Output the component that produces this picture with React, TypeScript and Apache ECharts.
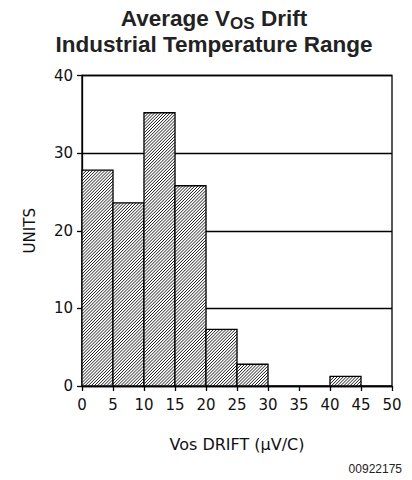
import React, { useEffect, useRef } from "react";
import * as echarts from "echarts";

const binStart = [0, 5, 10, 15, 20, 25, 40];
const binEnd = [5, 10, 15, 20, 25, 30, 45];
const units = [27.8, 23.6, 35.2, 25.8, 7.3, 2.8, 1.25];
const yTicks = [0, 10, 20, 30, 40];
const xTicks = [0, 5, 10, 15, 20, 25, 30, 35, 40, 45, 50];

export default function App() {
  const ref = useRef<HTMLDivElement>(null);
  useEffect(() => {
    document.body.style.margin = "0";
    const chart = echarts.init(ref.current!, null, { renderer: "svg" });
    const data = binStart.map((s, i) => [s, binEnd[i], units[i]]);
    const font = "'Liberation Sans', Arial, sans-serif";
    const axFont = "'DejaVu Sans', sans-serif";
    chart.setOption({
      animation: false,
      backgroundColor: "#fff",
      title: {
        text: "{a|Average V}{s|OS}{a| Drift}\n{a|Industrial Temperature Range}",
        left: 209,
        textAlign: "center",
        top: 0,
        textStyle: {
          rich: {
            a: { fontFamily: font, fontWeight: "bold", fontSize: 22.5, color: "#222", lineHeight: 26 },
            s: { fontFamily: font, fontWeight: "bold", fontSize: 17, color: "#222", lineHeight: 26, padding: [11, 0, 0, 0] },
          },
        },
      },
      grid: {
        left: 82,
        right: 20,
        top: 75.5,
        bottom: 94,
        show: true,
        borderColor: "#000",
        borderWidth: 1.3,
        containLabel: false,
      },
      xAxis: {
        type: "value",
        min: xTicks[0],
        max: xTicks[xTicks.length - 1],
        interval: 5,
        name: "Vos DRIFT (\u03bcV/C)",
        nameLocation: "middle",
        nameGap: 50,
        nameTextStyle: { fontFamily: axFont, fontSize: 16, color: "#111" },
        axisLine: { show: true, lineStyle: { color: "#000", width: 1.3 } },
        axisTick: { show: true, length: 5, lineStyle: { color: "#000", width: 1.3 } },
        axisLabel: { fontFamily: axFont, fontSize: 15, color: "#111", margin: 11 },
        splitLine: { show: false },
      },
      yAxis: {
        type: "value",
        min: yTicks[0],
        max: yTicks[yTicks.length - 1],
        interval: 10,
        name: "UNITS",
        nameLocation: "middle",
        nameGap: 45,
        nameRotate: 90,
        nameTextStyle: { fontFamily: axFont, fontSize: 15, color: "#111" },
        axisLine: { show: true, lineStyle: { color: "#000", width: 1.3 } },
        axisTick: { show: true, length: 5, lineStyle: { color: "#000", width: 1.3 } },
        axisLabel: { fontFamily: axFont, fontSize: 15, color: "#111", margin: 9 },
        splitLine: { show: true, lineStyle: { color: "#000", width: 1.3 } },
      },
      graphic: [
        {
          type: "text",
          right: 10,
          top: 463,
          style: { text: "00922175", fontFamily: font, fontSize: 12, fill: "#222" },
        },
      ],
      series: [
        {
          type: "custom",
          data,
          encode: { x: [0, 1], y: 2 },
          z: 5,
          renderItem: (params: any, api: any) => {
            const x0 = api.value(0);
            const x1 = api.value(1);
            const v = api.value(2);
            const p0 = api.coord([x0, v]);
            const p1 = api.coord([x1, 0]);
            const left = p0[0], top = p0[1], right = p1[0], bottom = p1[1];
            const children: any[] = [
              { type: "rect", shape: { x: left, y: top, width: right - left, height: bottom - top }, style: { fill: "#fff", stroke: null } },
            ];
            const step = 3.1;
            for (let c = left + top + step / 2; c < right + bottom; c += step) {
              const xa = Math.max(left, c - bottom);
              const xb = Math.min(right, c - top);
              if (xb > xa) {
                children.push({
                  type: "line",
                  shape: { x1: xa, y1: c - xa, x2: xb, y2: c - xb },
                  style: { stroke: "#000", lineWidth: 0.9 },
                });
              }
            }
            children.push({
              type: "rect",
              shape: { x: left, y: top, width: right - left, height: bottom - top },
              style: { fill: null, stroke: "#000", lineWidth: 1.3 },
            });
            return { type: "group", children };
          },
        },
      ],
    });
    return () => chart.dispose();
  }, []);
  return <div ref={ref} style={{ width: 412, height: 480 }} />;
}
